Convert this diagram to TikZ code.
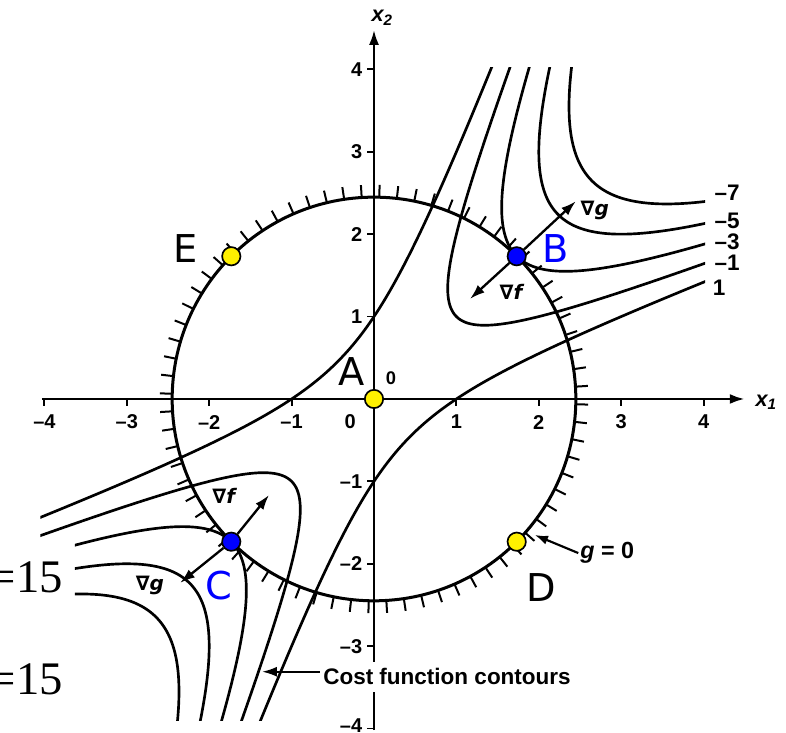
\documentclass[tikz,border=0pt]{standalone}
\usepackage{fontspec}
\setmainfont{Liberation Sans}
\newfontfamily\letterfont{DejaVu Sans}
\newfontfamily\timesfont{Liberation Serif}
\usetikzlibrary{arrows.meta}
\definecolor{ptyellow}{RGB}{255,240,0}
\definecolor{ptblue}{RGB}{0,0,255}
\begin{document}
\begin{tikzpicture}[x=49.44pt,y=49.44pt,
  axisline/.style={line width=1.6pt},
  contour/.style={line width=1.6pt, smooth},
  hatch/.style={line width=1.2pt},
  grad/.style={line width=1.4pt,-{Latex[length=9pt,width=6pt]}},
  ticklab/.style={font=\bfseries\fontsize{12}{14}\selectfont, inner sep=0pt},
  curvelab/.style={font=\bfseries\fontsize{13.5}{16}\selectfont, inner sep=0pt, anchor=west},
  gradlab/.style={font=\letterfont\bfseries\fontsize{12}{14}\selectfont, inner sep=0pt},
  ptlabel/.style={font=\letterfont\fontsize{23}{26}\selectfont, inner sep=0pt},
  dotpt/.style={circle, draw=black, line width=1pt, minimum size=11pt, inner sep=0pt},
  yellowpt/.style={dotpt, fill=ptyellow},
  bluept/.style={dotpt, fill=ptblue},
  eqlab/.style={font=\timesfont\fontsize{28}{30}\selectfont, inner sep=0pt, anchor=east}
]
\useasboundingbox (-4.539,-4.053) rectangle (5.0,4.842);
\fill[white] (-4.539,-4.053) rectangle (5.0,4.842);

% ---------- cost function contours f = x1^2 + x2^2 - 3 x1 x2 ----------
\begin{scope}
  \clip (-4.05,-3.9) rectangle (4.02,4.02);
  \foreach \c in {1,3,5,7} {
    \draw[contour, domain=-2.6:2.6, samples=140, variable=\s]
      plot ({sqrt(\c)*cosh(\s)+sqrt(\c/5)*sinh(\s)}, {sqrt(\c)*cosh(\s)-sqrt(\c/5)*sinh(\s)});
  }
  \draw[contour, domain=-2.6:2.6, samples=140, variable=\s]
    plot ({sinh(\s)+0.4472*cosh(\s)}, {sinh(\s)-0.4472*cosh(\s)});
  \draw[contour, domain=-2.6:2.6, samples=140, variable=\s]
    plot ({sinh(\s)-0.4472*cosh(\s)}, {sinh(\s)+0.4472*cosh(\s)});
  \draw[contour, domain=-2.6:2.6, samples=140, variable=\s]
    plot ({-cosh(\s)-sqrt(0.2)*sinh(\s)}, {-cosh(\s)+sqrt(0.2)*sinh(\s)});
\end{scope}
\begin{scope}
  \clip (-3.63,-3.9) rectangle (4.02,4.02);
  \foreach \c in {3,5,7} {
    \draw[contour, domain=-2.6:2.6, samples=140, variable=\s]
      plot ({-sqrt(\c)*cosh(\s)-sqrt(\c/5)*sinh(\s)}, {-sqrt(\c)*cosh(\s)+sqrt(\c/5)*sinh(\s)});
  }
\end{scope}

% ---------- constraint circle g = 0 ----------
\draw[line width=1.8pt] (0,0) circle ({sqrt(6)});
\foreach \k [evaluate=\k as \ang using \k*5+3.5] in {0,...,71} {
  \draw[hatch] (\ang:2.449) -- (\ang:2.60);
}

% ---------- axes ----------
\draw[axisline,-{Latex[length=9pt,width=6pt]}] (-4.03,0) -- (4.50,0);
\draw[axisline,-{Latex[length=9pt,width=6pt]}] (0,-4.02) -- (0,4.48);
\foreach \x in {-4,-3,-2,-1,1,2,3,4} {
  \draw[line width=1.1pt] (\x,0) -- (\x,-0.09);
}
\foreach \y in {-4,-3,-2,-1,1,2,3,4} {
  \draw[line width=1.1pt] (0,\y) -- (-0.09,\y);
}
\foreach \x/\t in {-4/--4,-3/--3,-2/--2,-1/--1,1/1,2/2,3/3,4/4} {
  \node[ticklab] (xl\x) at (\x,-0.28) {\t};
}
\node[ticklab] (xl0) at (-0.29,-0.28) {0};
\foreach \y/\t in {-3/--3,-2/--2,-1/--1,1/1,2/2,3/3,4/4} {
  \node[ticklab, anchor=east] (yl\y) at (-0.14,\y) {\t};
}
\node[ticklab, anchor=east] (yl-4) at (-0.14,-3.97) {--4};
\node[font=\bfseries\itshape\fontsize{13}{15}\selectfont, inner sep=0pt] (xone) at (4.76,-0.04) {x\textsubscript{1}};
\node[font=\bfseries\itshape\fontsize{13}{15}\selectfont, inner sep=0pt] (xtwo) at (0.10,4.63) {x\textsubscript{2}};

% ---------- contour values ----------
\node[curvelab] (c7) at (4.13,2.50) {--7};
\node[curvelab] (c5) at (4.13,2.16) {--5};
\node[curvelab] (c3) at (4.13,1.905) {--3};
\node[curvelab] (c1) at (4.13,1.655) {--1};
\node[curvelab] (cp1) at (4.11,1.347) {1};
\node[font=\bfseries\fontsize{11}{13}\selectfont, inner sep=0pt] (zero) at (0.206,0.255) {0};

% ---------- points ----------
\node[yellowpt] (A) at (0,0) {};
\node[bluept] (B) at (1.732,1.732) {};
\node[bluept] (C) at (-1.732,-1.732) {};
\node[yellowpt] (D) at (1.732,-1.732) {};
\node[yellowpt] (E) at (-1.732,1.732) {};

% ---------- gradients ----------
\coordinate (gBg) at (2.45,2.40);
\coordinate (gBf) at (1.165,1.214);
\coordinate (gCf) at (-1.274,-1.165);
\coordinate (gCg) at (-2.354,-2.233);
\draw[grad] (B) -- (gBg);
\draw[grad] (B) -- (gBf);
\draw[grad] (C) -- (gCf);
\draw[grad] (C) -- (gCg);
\node[gradlab] (lBg) at (2.68,2.29) {∇\textit{g}};
\node[gradlab] (lBf) at (1.675,1.30) {∇\textit{f}};
\node[gradlab] (lCf) at (-1.81,-1.18) {∇\textit{f}};
\node[gradlab] (lCg) at (-2.72,-2.26) {∇\textit{g}};

% ---------- point letters ----------
\node[ptlabel] (tA) at (-0.267,0.33) {A};
\node[ptlabel, text=ptblue] (tB) at (2.21,1.82) {B};
\node[ptlabel, text=ptblue] (tC) at (-1.88,-2.26) {C};
\node[ptlabel] (tD) at (2.03,-2.29) {D};
\node[ptlabel] (tE) at (-2.29,1.83) {E};

% ---------- annotations ----------
\node[font=\bfseries\fontsize{14}{16}\selectfont, inner sep=1pt] (gzero) at (2.83,-1.87) {\textit{g} = 0};
\coordinate (gpt) at (1.95,-1.65);
\draw[line width=1.3pt,-{Latex[length=8pt,width=5.5pt]}] (gzero.west) -- (gpt);

\node[font=\bfseries\fontsize{13.5}{16}\selectfont, fill=white, inner xsep=2pt, inner ysep=4pt] (cost) at (0.886,-3.37) {Cost function contours};
\coordinate (costpt) at (-1.36,-3.31);
\draw[line width=1.3pt,-{Latex[length=9pt,width=6pt]}] (cost.west |- costpt) -- (costpt);

\node[eqlab] (eqa) at (-3.774,-2.17) {=15};
\node[eqlab] (eqb) at (-3.774,-3.40) {=15};
\end{tikzpicture}
\end{document}
